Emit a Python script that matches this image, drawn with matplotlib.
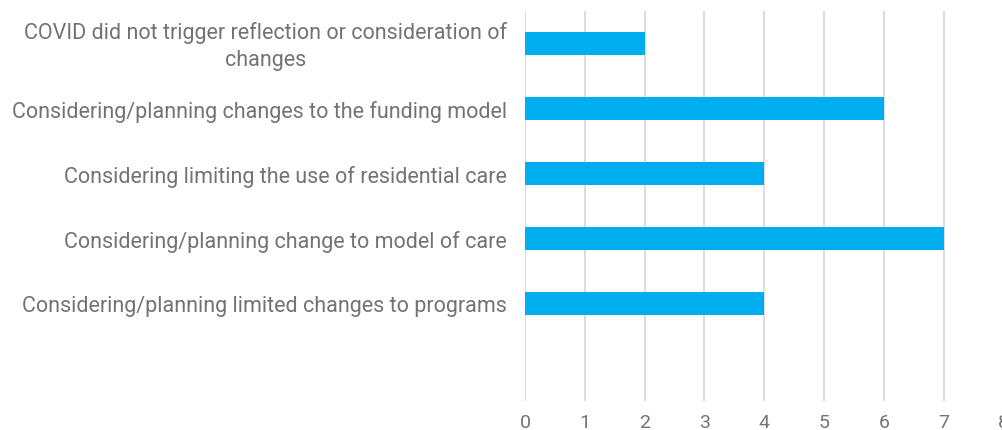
import matplotlib
matplotlib.use("Agg")
import matplotlib.pyplot as plt
from matplotlib.transforms import ScaledTranslation

categories = [
    "COVID did not trigger reflection or consideration of\nchanges",
    "Considering/planning changes to the funding model",
    "Considering limiting the use of residential care",
    "Considering/planning change to model of care",
    "Considering/planning limited changes to programs",
    "",
]
values = [2, 6, 4, 7, 4, 0]
xticks = [0, 1, 2, 3, 4, 5, 6, 7, 8]

plt.rcParams['font.family'] = ['Roboto', 'DejaVu Sans']
text_color = '#737373'

fig = plt.figure(figsize=(10.02, 4.31), dpi=100)
ax = fig.add_axes([525/1002, 1-402/431, (1003.6-525)/1002, 390/431])

ypos = list(range(len(categories)))
ax.barh(ypos, values, height=0.35, color='#00AEEF', zorder=3)
ax.set_ylim(len(categories)-0.5, -0.5)
ax.set_xlim(0, 8)
ax.set_xticks(xticks)
ax.set_xticklabels([str(t) for t in xticks])
ax.set_yticks(ypos)
ax.set_yticklabels(categories, multialignment='center', linespacing=1.42)
ax.grid(axis='x', color='#d9d9d9', linewidth=1.3, zorder=0)
for s in ax.spines.values():
    s.set_visible(False)
ax.tick_params(axis='y', length=0, pad=13, labelsize=15.5, labelcolor=text_color)
ax.tick_params(axis='x', length=0, pad=9, labelsize=14, labelcolor=text_color)

for lab in ax.get_yticklabels():
    if "\n" in lab.get_text():
        lab.set_transform(lab.get_transform() + ScaledTranslation(0, 0.04, fig.dpi_scale_trans))

fig.savefig("out.png", dpi=100, facecolor='white')
